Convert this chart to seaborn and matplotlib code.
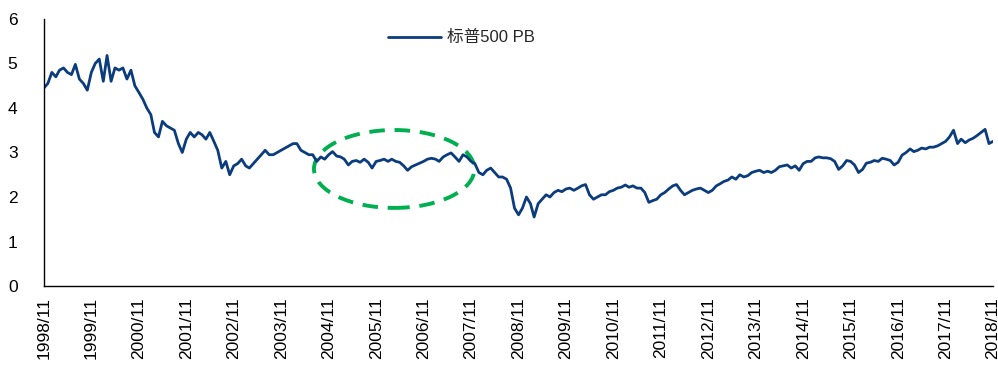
import pandas as pd
import matplotlib.pyplot as plt
import matplotlib.dates as mdates
import seaborn as sns
from matplotlib.patches import Ellipse

sns.set_style("white")
plt.rcParams['font.family'] = ['Liberation Sans', 'Noto Sans CJK SC', 'DejaVu Sans']

# 月度数据 1998/11 - 2018/11
inicio = '1998-11-01'
valoresPB = [
    4.45, 4.55, 4.80, 4.70, 4.85, 4.90, 4.80, 4.75, 4.98, 4.65, 4.55, 4.40,
    4.80, 5.00, 5.10, 4.60, 5.18, 4.60, 4.90, 4.85, 4.90, 4.65, 4.85, 4.50,
    4.35, 4.20, 4.00, 3.85, 3.45, 3.35, 3.70, 3.60, 3.55, 3.50, 3.20, 3.00,
    3.30, 3.45, 3.35, 3.45, 3.40, 3.30, 3.45, 3.25, 3.05, 2.65, 2.80, 2.50,
    2.70, 2.75, 2.85, 2.70, 2.65, 2.75, 2.85, 2.95, 3.05, 2.95, 2.95, 3.00,
    3.05, 3.10, 3.15, 3.20, 3.20, 3.05, 3.00, 2.95, 2.95, 2.80, 2.90, 2.85,
    2.95, 3.02, 2.92, 2.90, 2.85, 2.72, 2.80, 2.82, 2.78, 2.85, 2.78, 2.65,
    2.80, 2.82, 2.85, 2.80, 2.85, 2.80, 2.78, 2.70, 2.60, 2.68, 2.72, 2.76,
    2.80, 2.85, 2.87, 2.85, 2.80, 2.90, 2.95, 2.99, 2.90, 2.80, 2.95, 2.90,
    2.80, 2.75, 2.55, 2.50, 2.60, 2.65, 2.55, 2.45, 2.45, 2.40, 2.20, 1.75,
    1.60, 1.75, 2.00, 1.85, 1.55, 1.85, 1.95, 2.05, 2.00, 2.10, 2.15, 2.12,
    2.18, 2.20, 2.15, 2.20, 2.25, 2.28, 2.05, 1.95, 2.00, 2.05, 2.05, 2.12,
    2.15, 2.20, 2.22, 2.27, 2.22, 2.25, 2.20, 2.20, 2.10, 1.88, 1.92, 1.95,
    2.05, 2.10, 2.18, 2.25, 2.28, 2.15, 2.05, 2.10, 2.15, 2.18, 2.20, 2.15,
    2.10, 2.15, 2.25, 2.30, 2.35, 2.38, 2.45, 2.40, 2.50, 2.45, 2.48, 2.55,
    2.58, 2.60, 2.55, 2.58, 2.55, 2.60, 2.68, 2.70, 2.72, 2.65, 2.70, 2.60,
    2.75, 2.80, 2.80, 2.88, 2.90, 2.88, 2.88, 2.86, 2.80, 2.62, 2.70, 2.82,
    2.80, 2.72, 2.55, 2.62, 2.76, 2.78, 2.82, 2.80, 2.87, 2.85, 2.82, 2.72,
    2.78, 2.94, 3.00, 3.08, 3.02, 3.05, 3.10, 3.08, 3.12, 3.12, 3.15, 3.20,
    3.25, 3.35, 3.50, 3.20, 3.30, 3.22, 3.28, 3.32, 3.38, 3.45, 3.52, 3.20,
    3.25,
]
anosTicks = list(range(1998, 2019))
yTicks = [0, 1, 2, 3, 4, 5, 6]
rotuloSerie = '标普500 PB'


def montarDados():
    datas = pd.date_range(inicio, periods=len(valoresPB), freq='MS')
    return pd.DataFrame({'data': datas, 'pb': valoresPB})


def criarGrafico(dados):
    fig = plt.figure(figsize=(9.98, 3.65), dpi=100)
    ax = fig.add_axes([0.044, 0.2164, 0.951, 0.7316])

    sns.lineplot(data=dados, x='data', y='pb', ax=ax, color='#0B3C7D',
                 linewidth=2, label=rotuloSerie)

    # 椭圆标注 2004-2007
    centro = mdates.date2num(pd.Timestamp('2006-03-20'))
    elipse = Ellipse((centro, 2.63), width=1235, height=1.75,
                     fill=False, edgecolor='#00B050', linewidth=2.8,
                     linestyle=(0, (4, 2.5)))
    ax.add_patch(elipse)

    posTicks = [pd.Timestamp(f'{a}-11-01') for a in anosTicks]
    ax.set_xticks(posTicks)
    ax.set_xticklabels([f'{a}/11' for a in anosTicks], rotation=90,
                       fontsize=12.5)
    ax.set_xlim(posTicks[0], posTicks[-1])
    ax.set_ylim(0, 6)
    ax.set_yticks(yTicks)
    ax.set_yticklabels([str(v) for v in yTicks], fontsize=12.5)
    ax.set_xlabel('')
    ax.set_ylabel('')

    for lado in ['top', 'right']:
        ax.spines[lado].set_visible(False)
    for lado in ['left', 'bottom']:
        ax.spines[lado].set_color('black')
        ax.spines[lado].set_linewidth(1)
    ax.tick_params(axis='x', direction='out', length=5, width=1, pad=3,
                   colors='black')
    ax.tick_params(axis='y', direction='out', length=5, width=1, pad=14,
                   colors='black')

    ax.legend(loc='center', bbox_to_anchor=(0.44, 0.929), frameon=False,
              fontsize=12, handlelength=3.2, handletextpad=0.35)

    fig.savefig('out.png', dpi=100)


def main():
    dados = montarDados()
    criarGrafico(dados)


if __name__ == "__main__":
    main()
